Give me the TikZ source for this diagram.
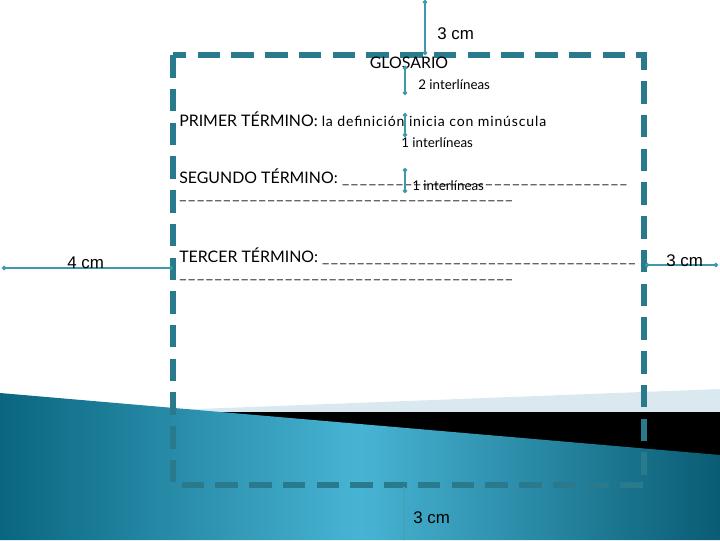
\documentclass[tikz,border=0pt]{standalone}
\usepackage{fontspec}
\setmainfont{Lato}
\newfontfamily\medfont{Liberation Sans}
\usetikzlibrary{arrows.meta}
\definecolor{marco}{HTML}{2A7A8E}
\definecolor{flecha}{HTML}{3E9AAA}
\definecolor{azulosc}{HTML}{0A6680}
\definecolor{azulcla}{HTML}{48B4D4}
\definecolor{celeste}{HTML}{D9E9EF}
\newlength\px
\setlength\px{0.025cm}
\newcommand\rayas[1]{\makebox[#1\px]{\color{black!85}\xleaders\hbox{\_\kern1pt}\hfill}}
\tikzset{medida/.style={draw=flecha, line width=1.2pt, {Circle[length=3pt]}-{Circle[length=3pt]}},
         termino/.style={anchor=base west, inner sep=0pt, font=\fontsize{11.3}{13}\selectfont},
         nota/.style={anchor=base west, inner sep=0pt, font=\fontsize{9.5}{11}\selectfont},
         distancia/.style={anchor=base west, inner sep=0pt, font=\medfont\fontsize{12}{14}\selectfont}}

\begin{document}
\begin{tikzpicture}[x=0.025cm,y=-0.025cm]
  \useasboundingbox (0,0) rectangle (720,540);
  \fill[celeste] (120,412) -- (720,389) -- (720,412) -- cycle;
  \fill[black] (200,412) rectangle (720,460);
  \shade[left color=azulosc, right color=azulosc!90!black, middle color=azulcla]
        (0,393) -- (720,455) -- (720,540) -- (0,540) -- cycle;
  \draw[marco, line width=4pt, dash pattern=on 16pt off 8pt] (173,55) rectangle (644,485);

  \node[termino, anchor=base] (glosario) at (409,68) {GLOSARIO};
  \node[termino] (primero) at (179,126) {PRIMER TÉRMINO: {\fontsize{10}{12}\selectfont\addfontfeature{LetterSpace=6}la definición inicia con minúscula}};
  \node[termino] (segundo) at (179,183) {SEGUNDO TÉRMINO: \rayas{287}};
  \node[termino] (segundob) at (179,199) {\rayas{335}};
  \node[termino] (tercero) at (179,262) {TERCER TÉRMINO: \rayas{315}};
  \node[termino] (tercerob) at (179,278) {\rayas{335}};

  \coordinate (arriba) at (425,0);
  \coordinate (bordesup) at (425,55);
  \coordinate (izq) at (2,268);
  \coordinate (bordeizq) at (173,268);
  \coordinate (bordeder) at (645,265);
  \coordinate (der) at (718,265);
  \coordinate (bordeinf) at (404,487);
  \coordinate (abajo) at (404,540);
  \draw[medida] (arriba) -- (bordesup);
  \draw[medida] (izq) -- (bordeizq);
  \draw[medida] (bordeder) -- (der);
  \draw[medida, draw=flecha!60!azulcla] (bordeinf) -- (abajo);
  \draw[medida] (405,66) -- (405,95);
  \draw[medida] (405,113) -- (405,137);
  \draw[medida] (405,168) -- (405,193);

  \node[distancia] (sup) at (437,39) {3 cm};
  \node[distancia] (lizq) at (67,268) {4 cm};
  \node[distancia] (lder) at (666,266) {3 cm};
  \node[distancia] (inf) at (413,523) {3 cm};
  \node[nota] (dos) at (418,89) {2 interlíneas};
  \node[nota] (uno) at (401,147) {1 interlíneas};
  \node[nota] (unob) at (412,190) {1 interlíneas};
\end{tikzpicture}
\end{document}
